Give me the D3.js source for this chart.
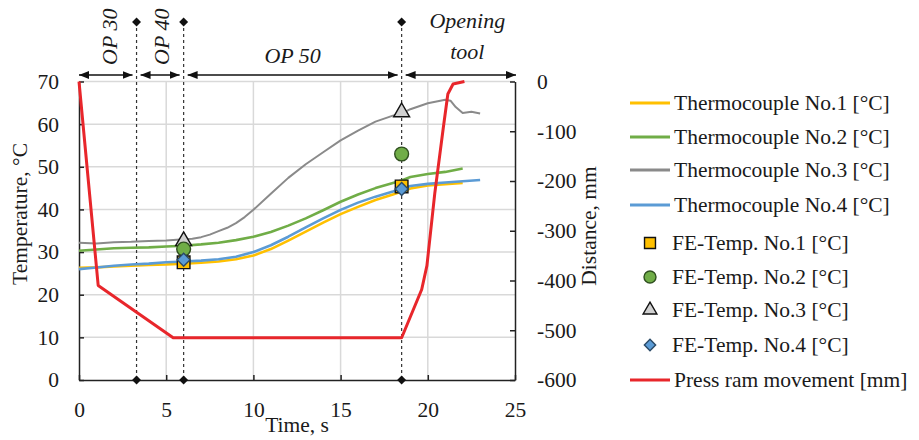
<!DOCTYPE html>
<html>
<head>
<meta charset="utf-8">
<script src="https://cdn.jsdelivr.net/npm/d3@7"></script>
<style>
  body { margin: 0; background: #fff; }
  svg text { font-family: "Liberation Serif", "Times New Roman", serif; fill: #1a1a1a; }
</style>
</head>
<body>
<script>
// thermocouple readings [time s, temperature °C]
const tc1 = [[0,26.3],[1,26.4],[2,26.6],[3,26.8],[4,27.0],[5,27.1],[6,27.3],[7,27.5],[8,27.8],[9,28.3],[10,29.2],[11,30.7],[12,32.7],[13,34.8],[14,36.9],[15,38.9],[16,40.6],[17,42.2],[18,43.5],[18.5,44.2],[19,44.9],[20,45.6],[21,45.9],[22,46.2]];
const tc2 = [[0,30.3],[1,30.6],[2,30.9],[3,31.0],[4,31.1],[5,31.3],[6,31.5],[7,31.8],[8,32.2],[9,32.8],[10,33.6],[11,34.7],[12,36.2],[13,37.9],[14,39.8],[15,41.8],[16,43.5],[17,45.0],[18,46.2],[18.5,46.8],[19,47.6],[20,48.3],[21,48.8],[22,49.6]];
const tc3 = [[0,32.2],[1,32.0],[2,32.3],[3,32.4],[4,32.6],[5,32.7],[6,33.0],[6.5,33.1],[7,33.5],[7.5,34.1],[8,34.9],[8.5,35.7],[9,36.8],[9.5,38.2],[10,39.9],[11,43.7],[12,47.4],[13,50.6],[14,53.4],[15,56.2],[16,58.5],[17,60.6],[18,62.0],[18.5,62.5],[19,63.5],[20,64.9],[21,65.7],[21.3,65.5],[21.6,64.0],[22,62.6],[22.5,62.9],[23,62.5]];
const tc4 = [[0,26.0],[1,26.4],[2,26.8],[3,27.1],[4,27.3],[5,27.6],[6,27.8],[7,28.0],[8,28.3],[9,28.9],[10,30.0],[11,31.6],[12,33.6],[13,35.8],[14,37.9],[15,39.9],[16,41.6],[17,43.0],[18,44.2],[18.5,44.9],[19,45.5],[20,46.0],[21,46.3],[22,46.6],[23,46.9]];

// press ram position [time s, distance mm]
const ram = [[0,0],[1.1,-410],[5.4,-515],[18.5,-515],[19.65,-418],[19.95,-370],[20.4,-225],[20.9,-90],[21.15,-25],[21.45,-5],[22.1,0]];

// FE simulation points [time s, temperature °C]
const fe1 = [[6,27.6],[18.5,45.4]];
const fe2 = [[6,30.7],[18.5,53.0]];
const fe3 = [[6,32.6],[18.5,62.8]];
const fe4 = [[6,28.2],[18.5,44.8]];

// operation boundaries, s
const phaseTimes = [3.3, 6, 18.5];

const xTicks = [0, 5, 10, 15, 20, 25];
const yTicks = [0, 10, 20, 30, 40, 50, 60, 70];
const y2Ticks = [0, -100, -200, -300, -400, -500, -600];

const legendLabels = [
  "Thermocouple No.1 [°C]", "Thermocouple No.2 [°C]", "Thermocouple No.3 [°C]", "Thermocouple No.4 [°C]",
  "FE-Temp. No.1 [°C]", "FE-Temp. No.2 [°C]", "FE-Temp. No.3 [°C]", "FE-Temp. No.4 [°C]",
  "Press ram movement [mm]"
];

const yellow = "#ffc000", green = "#70ad47", gray = "#8a8a8a", blue = "#5b9bd5", red = "#e8262b";

const plotLeft = 79, plotRight = 515, plotTop = 81.5, plotBottom = 380;

const svg = d3.select("body").append("svg")
  .attr("width", 919)
  .attr("height", 440);

const x = d3.scaleLinear().domain([0, 25]).range([plotLeft, plotRight]);
const y = d3.scaleLinear().domain([0, 70]).range([plotBottom, plotTop]);
const y2 = d3.scaleLinear().domain([-600, 0]).range([plotBottom, plotTop]);

// grid
svg.append("g").selectAll("line")
  .data(yTicks.filter(d => d > 0))
  .join("line")
  .attr("x1", plotLeft).attr("x2", plotRight)
  .attr("y1", d => y(d)).attr("y2", d => y(d))
  .attr("stroke", "#d9d9d9").attr("stroke-width", 1.5);

svg.append("g").selectAll("line")
  .data(xTicks.filter(d => d > 0 && d < 25))
  .join("line")
  .attr("x1", d => x(d)).attr("x2", d => x(d))
  .attr("y1", plotTop).attr("y2", plotBottom)
  .attr("stroke", "#d9d9d9").attr("stroke-width", 1.5);

// axes
const xAxis = svg.append("g")
  .attr("transform", `translate(0,${plotBottom})`)
  .call(d3.axisBottom(x).tickValues(xTicks).tickSizeInner(-5).tickSizeOuter(0).tickPadding(22));

const yAxis = svg.append("g")
  .attr("transform", `translate(${plotLeft},0)`)
  .call(d3.axisLeft(y).tickValues(yTicks).tickSizeInner(-5).tickSizeOuter(0).tickPadding(20));

const y2Axis = svg.append("g")
  .attr("transform", `translate(${plotRight},0)`)
  .call(d3.axisRight(y2).tickValues(y2Ticks).tickFormat(d => String(d)).tickSizeInner(-5).tickSizeOuter(0).tickPadding(22));

[xAxis, yAxis, y2Axis].forEach(g => {
  g.select(".domain").attr("stroke", "#222").attr("stroke-width", 1.5);
  g.selectAll(".tick line").attr("stroke", "#222").attr("stroke-width", 1.5);
  g.selectAll(".tick text").style("font-size", "21.5px").attr("fill", "#1a1a1a")
    .style("font-family", "'Liberation Serif', 'Times New Roman', serif");
});
y2Axis.selectAll(".tick text").attr("text-anchor", "start");

// axis titles
svg.append("text")
  .attr("transform", "translate(27,214) rotate(-90)")
  .attr("text-anchor", "middle")
  .style("font-size", "21.5px")
  .text("Temperature, °C");

svg.append("text")
  .attr("transform", "translate(596,226) rotate(-90)")
  .attr("text-anchor", "middle")
  .style("font-size", "21.5px")
  .text("Distance, mm");

svg.append("text")
  .attr("x", 297).attr("y", 432)
  .attr("text-anchor", "middle")
  .style("font-size", "21.5px")
  .text("Time, s");

// diamond = square turned 45°
const diamondPath = s => d3.symbol().type(d3.symbolSquare).size(s)();

// phase dividers
svg.append("g").selectAll("line")
  .data(phaseTimes)
  .join("line")
  .attr("x1", d => x(d)).attr("x2", d => x(d))
  .attr("y1", 22).attr("y2", plotBottom)
  .attr("stroke", "#333").attr("stroke-width", 1.2)
  .attr("stroke-dasharray", "3,3");

svg.append("g").selectAll("path")
  .data(phaseTimes.flatMap(t => [[t, 22], [t, plotBottom]]))
  .join("path")
  .attr("d", diamondPath(40))
  .attr("transform", d => `translate(${x(d[0])},${d[1]}) rotate(45)`)
  .attr("fill", "#111");

// arrows
const defs = svg.append("defs");
defs.append("marker")
  .attr("id", "arr")
  .attr("viewBox", "0 0 10 8")
  .attr("refX", 10).attr("refY", 4)
  .attr("markerWidth", 10).attr("markerHeight", 8)
  .attr("markerUnits", "userSpaceOnUse")
  .attr("orient", "auto-start-reverse")
  .append("path")
  .attr("d", "M0,0 L10,4 L0,8 Z")
  .attr("fill", "#111");

const bounds = [0, ...phaseTimes, 25];
const arrowY = 75;
svg.append("g").selectAll("line")
  .data(d3.pairs(bounds))
  .join("line")
  .attr("x1", (d, i) => x(d[0]) + (i === 0 ? 0 : 4))
  .attr("x2", (d, i) => x(d[1]) - (i === 3 ? -1 : 4))
  .attr("y1", arrowY).attr("y2", arrowY)
  .attr("stroke", "#111").attr("stroke-width", 1.3)
  .attr("marker-start", "url(#arr)")
  .attr("marker-end", "url(#arr)");

// phase labels
const phaseText = svg.append("g")
  .style("font-size", "22px")
  .style("font-style", "italic");

phaseText.append("text")
  .attr("transform", `translate(${(x(0) + x(3.3)) / 2 + 9},65) rotate(-90)`)
  .text("OP 30");
phaseText.append("text")
  .attr("transform", `translate(${(x(3.3) + x(6)) / 2 + 9},65) rotate(-90)`)
  .text("OP 40");
phaseText.append("text")
  .attr("x", (x(6) + x(18.5)) / 2).attr("y", 63)
  .attr("text-anchor", "middle")
  .text("OP 50");
phaseText.append("text")
  .attr("x", (x(18.5) + x(25)) / 2 + 9).attr("y", 28)
  .attr("text-anchor", "middle")
  .text("Opening");
phaseText.append("text")
  .attr("x", (x(18.5) + x(25)) / 2 + 9).attr("y", 59)
  .attr("text-anchor", "middle")
  .text("tool");

// lines
const line = d3.line().x(d => x(d[0])).y(d => y(d[1]));
const line2 = d3.line().x(d => x(d[0])).y(d => y2(d[1]));

const series = [
  { data: tc3, color: gray, w: 2 },
  { data: tc2, color: green, w: 2.6 },
  { data: tc1, color: yellow, w: 2.6 },
  { data: tc4, color: blue, w: 2.6 }
];
series.forEach(s => {
  svg.append("path")
    .datum(s.data)
    .attr("d", line)
    .attr("fill", "none")
    .attr("stroke", s.color)
    .attr("stroke-width", s.w)
    .attr("stroke-linejoin", "round");
});

svg.append("path")
  .datum(ram)
  .attr("d", line2)
  .attr("fill", "none")
  .attr("stroke", red)
  .attr("stroke-width", 3)
  .attr("stroke-linejoin", "round");

// FE markers
const markerDefs = [
  { data: fe3, type: d3.symbolTriangle, size: 110, rot: 0, fill: "#d0d0d0", stroke: "#111" },
  { data: fe2, type: d3.symbolCircle, size: 150, rot: 0, fill: green, stroke: "#2f4f1f" },
  { data: fe1, type: d3.symbolSquare, size: 160, rot: 0, fill: yellow, stroke: "#111" },
  { data: fe4, type: d3.symbolSquare, size: 85, rot: 45, fill: blue, stroke: "#2b4a66" }
];
markerDefs.forEach(m => {
  svg.append("g").selectAll("path")
    .data(m.data)
    .join("path")
    .attr("d", d3.symbol().type(m.type).size(m.size))
    .attr("transform", d => `translate(${x(d[0])},${y(d[1])}) rotate(${m.rot})`)
    .attr("fill", m.fill)
    .attr("stroke", m.stroke)
    .attr("stroke-width", 1.4);
});

// legend
const legendY = [103, 137, 170, 205, 243, 277, 310, 345, 380];
const legendItems = [
  { kind: "line", color: yellow },
  { kind: "line", color: green },
  { kind: "line", color: gray },
  { kind: "line", color: blue },
  { kind: "sym", m: markerDefs[2] },
  { kind: "sym", m: markerDefs[1] },
  { kind: "sym", m: markerDefs[0] },
  { kind: "sym", m: markerDefs[3] },
  { kind: "line", color: red }
];

const legend = svg.append("g");
legendItems.forEach((it, i) => {
  const cy = legendY[i];
  if (it.kind === "line") {
    legend.append("line")
      .attr("x1", 630).attr("x2", 670)
      .attr("y1", cy).attr("y2", cy)
      .attr("stroke", it.color)
      .attr("stroke-width", 3);
    legend.append("text")
      .attr("x", 674).attr("y", cy + 7)
      .style("font-size", "21.5px")
      .text(legendLabels[i]);
  } else {
    legend.append("path")
      .attr("d", d3.symbol().type(it.m.type).size(it.m.size * 0.75))
      .attr("transform", `translate(650,${cy}) rotate(${it.m.rot})`)
      .attr("fill", it.m.fill)
      .attr("stroke", it.m.stroke)
      .attr("stroke-width", 1.4);
    legend.append("text")
      .attr("x", 672).attr("y", cy + 7)
      .style("font-size", "21.5px")
      .text(legendLabels[i]);
  }
});
</script>
</body>
</html>
